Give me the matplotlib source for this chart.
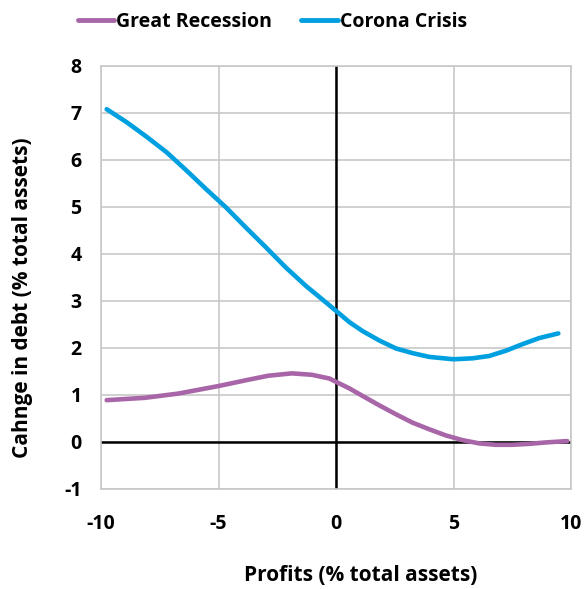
import matplotlib.pyplot as plt

# values
gr_x = [-9.76, -8.13, -6.71, -5.0, -3.87, -2.88, -1.88, -1.03, -0.28, 0.0, 0.57, 1.13, 1.84, 2.55,
        3.26, 3.97, 4.67, 5.38, 6.09, 6.8, 7.5, 8.22, 8.92, 9.84]
gr_y = [0.89, 0.94, 1.03, 1.19, 1.31, 1.41, 1.46, 1.43, 1.35, 1.28, 1.14, 0.98, 0.78, 0.59,
        0.41, 0.27, 0.14, 0.04, -0.03, -0.06, -0.06, -0.04, -0.01, 0.02]

cc_x = [-9.76, -8.9, -8.05, -7.2, -6.35, -5.53, -4.68, -3.83, -2.98, -2.13, -1.28, -0.43, 0.0,
        0.57, 1.13, 1.84, 2.55, 3.26, 3.97, 5.0, 5.81, 6.52, 7.22, 7.93, 8.64, 9.46]
cc_y = [7.08, 6.80, 6.49, 6.16, 5.77, 5.38, 4.99, 4.56, 4.14, 3.71, 3.32, 2.97, 2.79,
        2.55, 2.36, 2.16, 1.99, 1.89, 1.81, 1.76, 1.78, 1.83, 1.94, 2.08, 2.21, 2.31]

x_ticks = [-10, -5, 0, 5, 10]
y_ticks = [-1, 0, 1, 2, 3, 4, 5, 6, 7, 8]

plt.rcParams['font.family'] = ['Open Sans', 'DejaVu Sans']
plt.rcParams['font.weight'] = 'bold'
plt.rcParams['axes.unicode_minus'] = False

fig = plt.figure(figsize=(5.86, 5.89), dpi=100)
ax = fig.add_axes([0.1724, 0.1698, 0.802, 0.7182])

ax.set_xlim(-10, 10)
ax.set_ylim(-1, 8)
ax.set_xticks(x_ticks)
ax.set_yticks(y_ticks)
ax.grid(True, color='#c8c8c8', linewidth=1.2)
ax.set_axisbelow(True)
ax.axhline(0, color='black', linewidth=1.8, zorder=1.5)
ax.axvline(0, color='black', linewidth=1.8, zorder=1.5)

ax.plot(gr_x, gr_y, color='#a866a8', linewidth=3.3, solid_capstyle='round',
        solid_joinstyle='round', label='Great Recession')
ax.plot(cc_x, cc_y, color='#00a0e0', linewidth=3.3, solid_capstyle='round',
        solid_joinstyle='round', label='Corona Crisis')

for s in ax.spines.values():
    s.set_color('#c8c8c8')
    s.set_linewidth(1.2)
ax.tick_params(length=0, labelsize=14)
ax.tick_params(axis='y', pad=14)
ax.tick_params(axis='x', pad=18)
for lab in ax.get_xticklabels() + ax.get_yticklabels():
    lab.set_fontweight('bold')

ax.set_xlabel('Profits (% total assets)', fontsize=15, fontweight='bold')
ax.set_ylabel('Cahnge in debt (% total assets)', fontsize=15, fontweight='bold')
ax.xaxis.set_label_coords(0.553, -0.18)
ax.yaxis.set_label_coords(-0.145, 0.452)

leg = fig.legend(loc='upper center', bbox_to_anchor=(0.465, 1.01), ncol=2, frameon=False,
                 handlelength=1.9, handletextpad=0.1, columnspacing=1.5,
                 prop={'weight': 'bold', 'size': 14})
for h in leg.get_lines():
    h.set_linewidth(3.5)

fig.savefig('out.png', dpi=100)
